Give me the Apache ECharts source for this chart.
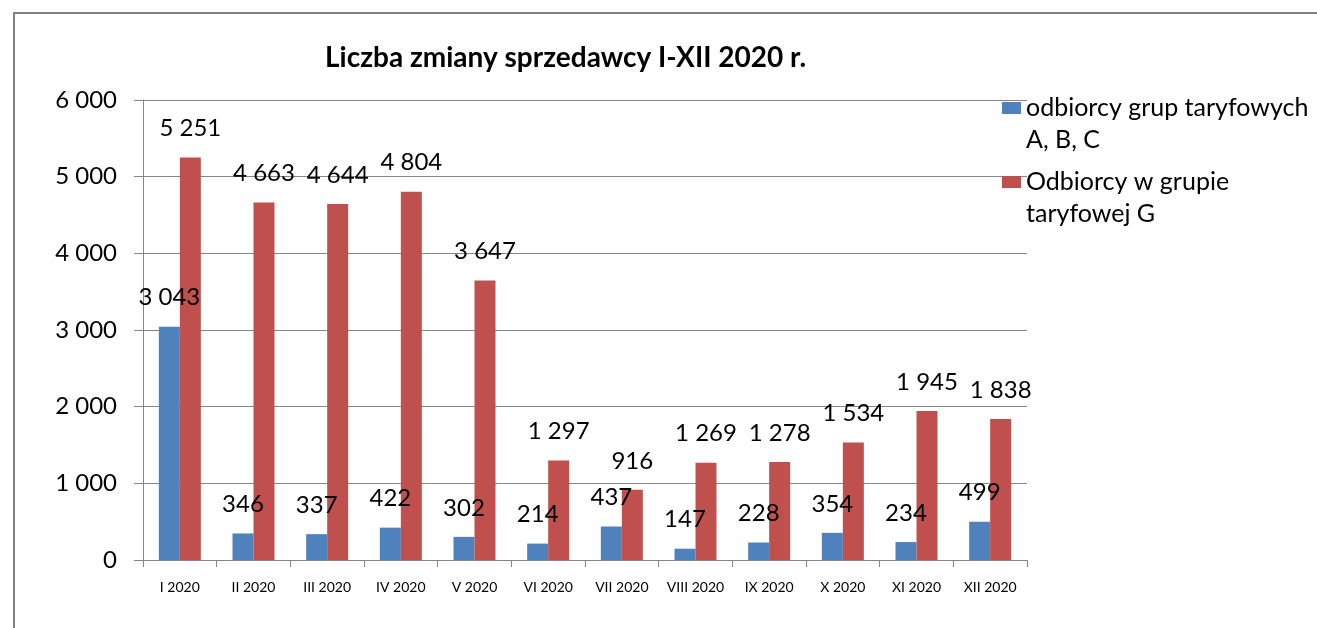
<!DOCTYPE html>
<html><head><meta charset="utf-8">
<script src="https://cdn.jsdelivr.net/npm/echarts@6/dist/echarts.min.js"></script>
<style>html,body{margin:0;padding:0;background:#fff}#c{width:1317px;height:628px}</style>
</head><body><div id="c"></div>
<script>
const categories = ['I 2020','II 2020','III 2020','IV 2020','V 2020','VI 2020','VII 2020','VIII 2020','IX 2020','X 2020','XI 2020','XII 2020'];
const seriesABC = [3043,346,337,422,302,214,437,147,228,354,234,499];
const seriesG = [5251,4663,4644,4804,3647,1297,916,1269,1278,1534,1945,1838];
const seriesNames = ['odbiorcy grup taryfowych\nA, B, C','Odbiorcy w grupie\ntaryfowej G'];
const yTicks = [0,1000,2000,3000,4000,5000,6000];
const titleText = 'Liczba zmiany sprzedawcy I-XII 2020 r.';

function fmt(v){ return String(v).replace(/\B(?=(\d{3})+(?!\d))/g,' '); }
const FONT = 'Lato, "Noto Sans", sans-serif';
const LH = 32;
const chart = echarts.init(document.getElementById('c'), null, {renderer:'canvas'});
const labelCfg = {show:true, position:'top', distance:17, fontSize:24, color:'#000', fontFamily:FONT, formatter:p=>fmt(p.value)};
function legendFor(name, top){
  return {orient:'vertical', left:1002, top:top, padding:0, itemWidth:19, itemHeight:12, icon:'rect',
    formatter:n=>'\n'+n,
    textStyle:{fontFamily:FONT, fontSize:25, color:'#000', lineHeight:LH},
    data:[name]};
}
chart.setOption({
  animation:false,
  backgroundColor:'#fff',
  graphic:[{type:'rect', shape:{x:14,y:13,width:1400,height:700}, style:{fill:'none', stroke:'#808080', lineWidth:2}, silent:true}],
  title:{text:titleText, left:325, top:44, padding:0, textStyle:{fontFamily:FONT, fontSize:28, fontWeight:'bold', color:'#000'}},
  legend:[legendFor(seriesNames[0], 108-1.5*LH), legendFor(seriesNames[1], 182-1.5*LH)],
  grid:{left:143, right:290, top:100, bottom:68},
  xAxis:{type:'category', data:categories,
    axisLine:{lineStyle:{color:'#868686', width:1}},
    axisTick:{show:true, length:7, lineStyle:{color:'#868686'}},
    axisLabel:{interval:0, fontFamily:FONT, fontSize:14, color:'#000', margin:20}},
  yAxis:{type:'value', min:0, max:6000, interval:1000,
    axisLine:{show:true, lineStyle:{color:'#868686'}},
    axisTick:{show:true, length:9, lineStyle:{color:'#868686'}},
    splitLine:{lineStyle:{color:'#868686', width:1}},
    axisLabel:{fontFamily:FONT, fontSize:24, color:'#000', margin:26, formatter:v=>fmt(v)}},
  series:[
    {name:seriesNames[0], type:'bar', data:seriesABC, barGap:'0%', barCategoryGap:'43%', itemStyle:{color:'#4F81BD'}, label:labelCfg},
    {name:seriesNames[1], type:'bar', data:seriesG, barGap:'0%', barCategoryGap:'43%', itemStyle:{color:'#C0504D'}, label:labelCfg}
  ]
});
</script></body></html>
